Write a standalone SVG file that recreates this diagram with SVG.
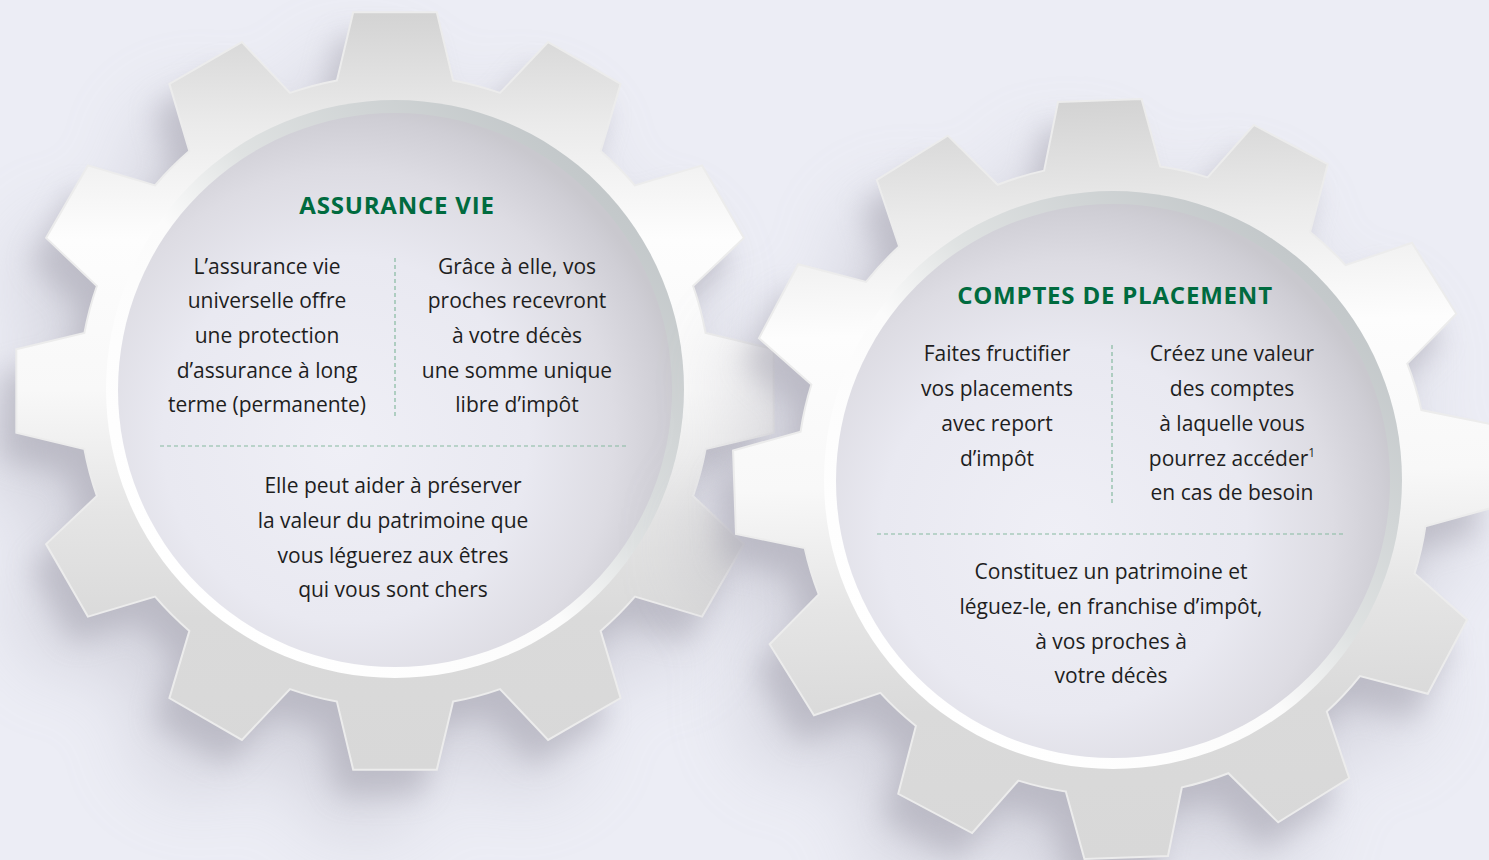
<svg xmlns="http://www.w3.org/2000/svg" xmlns:xlink="http://www.w3.org/1999/xlink" width="1489" height="860" viewBox="0 0 1489 860">
<defs>
<path id="gear" d="M-58.1,-310.6 L-41.8,-378.7 L41.8,-378.7 L58.1,-310.6 A316,316 0 0 1 105,-298.1 L153.1,-348.9 L225.6,-307.1 L205.6,-239.9 A316,316 0 0 1 239.9,-205.6 L307.1,-225.6 L348.9,-153.1 L298.1,-105 A316,316 0 0 1 310.6,-58.1 L378.7,-41.8 L378.7,41.8 L310.6,58.1 A316,316 0 0 1 298.1,105 L348.9,153.1 L307.1,225.6 L239.9,205.6 A316,316 0 0 1 205.6,239.9 L225.6,307.1 L153.1,348.9 L105,298.1 A316,316 0 0 1 58.1,310.6 L41.8,378.7 L-41.8,378.7 L-58.1,310.6 A316,316 0 0 1 -105,298.1 L-153.1,348.9 L-225.6,307.1 L-205.6,239.9 A316,316 0 0 1 -239.9,205.6 L-307.1,225.6 L-348.9,153.1 L-298.1,105 A316,316 0 0 1 -310.6,58.1 L-378.7,41.8 L-378.7,-41.8 L-310.6,-58.1 A316,316 0 0 1 -298.1,-105 L-348.9,-153.1 L-307.1,-225.6 L-239.9,-205.6 A316,316 0 0 1 -205.6,-239.9 L-225.6,-307.1 L-153.1,-348.9 L-105,-298.1 A316,316 0 0 1 -58.1,-310.6 Z"/>
<linearGradient id="body" x1="0" y1="0" x2="0" y2="1">
<stop offset="0" stop-color="#d3d3d3"/>
<stop offset="0.15" stop-color="#ebebeb"/>
<stop offset="0.3" stop-color="#fdfdfd"/>
<stop offset="0.5" stop-color="#f8f8f8"/>
<stop offset="0.66" stop-color="#e5e5e5"/>
<stop offset="0.8" stop-color="#dadada"/>
<stop offset="1" stop-color="#d8d8d8"/>
</linearGradient>
<linearGradient id="rim" x1="0.85" y1="0.15" x2="0.15" y2="0.85">
<stop offset="0" stop-color="#c3c8ca"/>
<stop offset="0.4" stop-color="#dfe2e2"/>
<stop offset="0.58" stop-color="#fbfbfb"/>
<stop offset="1" stop-color="#ffffff"/>
</linearGradient>
<radialGradient id="disk" cx="0.42" cy="0.58" r="0.6" fx="0.4" fy="0.6">
<stop offset="0" stop-color="#efeff6"/>
<stop offset="0.55" stop-color="#e9e9f1"/>
<stop offset="0.8" stop-color="#dddce3"/>
<stop offset="0.95" stop-color="#cfced5"/>
<stop offset="1" stop-color="#c9c8ce"/>
</radialGradient>
<filter id="blurS" x="-30%" y="-30%" width="160%" height="160%"><feGaussianBlur stdDeviation="14"/></filter>
<filter id="blurL" x="-40%" y="-40%" width="180%" height="180%"><feGaussianBlur stdDeviation="40"/></filter>
</defs>
<style>
.t{font-family:"Open Sans","Noto Sans","Liberation Sans",sans-serif;font-size:21px;fill:#1e1e1e;text-anchor:middle}
.h{font-family:"Open Sans","Noto Sans","Liberation Sans",sans-serif;font-size:24px;font-weight:700;fill:#006b3f;text-anchor:middle;letter-spacing:0.8px}
.dash{stroke:#86b9a0;stroke-width:1.2;stroke-dasharray:4 3;fill:none}
.gbody{fill:url(#body);stroke:#ececec;stroke-width:2}
.shL{fill:#a9a7b4;opacity:0.4}
.shS{fill:#a9a7b4;opacity:0.55}
</style>
<rect width="1489" height="860" fill="#ecedf5"/>

<g id="gear-assurance-vie">
<use xlink:href="#gear" href="#gear" class="shL" filter="url(#blurL)" transform="translate(360,446)"/>
<use xlink:href="#gear" href="#gear" class="shS" filter="url(#blurS)" transform="translate(380,416)"/>
<use xlink:href="#gear" href="#gear" class="gbody" transform="translate(395,391)"/>
<circle cx="395" cy="389" r="289" fill="url(#rim)"/>
<circle cx="395" cy="390" r="277" fill="url(#disk)"/>
<text class="h" x="397" y="214">ASSURANCE VIE</text>
<text class="t" x="267" y="274">L’assurance vie</text>
<text class="t" x="267" y="308">universelle offre</text>
<text class="t" x="267" y="343">une protection</text>
<text class="t" x="267" y="378">d’assurance à long</text>
<text class="t" x="267" y="412">terme (permanente)</text>
<line class="dash" x1="395" y1="258" x2="395" y2="418"/>
<text class="t" x="517" y="274">Grâce à elle, vos</text>
<text class="t" x="517" y="308">proches recevront</text>
<text class="t" x="517" y="343">à votre décès</text>
<text class="t" x="517" y="378">une somme unique</text>
<text class="t" x="517" y="412">libre d’impôt</text>
<line class="dash" x1="160" y1="446" x2="627" y2="446"/>
<text class="t" x="393" y="493">Elle peut aider à préserver</text>
<text class="t" x="393" y="528">la valeur du patrimoine que</text>
<text class="t" x="393" y="563">vous léguerez aux êtres</text>
<text class="t" x="393" y="597">qui vous sont chers</text>
</g>

<g id="gear-comptes-placement">
<use xlink:href="#gear" href="#gear" class="shL" filter="url(#blurL)" transform="translate(1078,535) rotate(-2)"/>
<use xlink:href="#gear" href="#gear" class="shS" filter="url(#blurS)" transform="translate(1098,505) rotate(-2)"/>
<use xlink:href="#gear" href="#gear" class="gbody" transform="translate(1113,479) rotate(-2)"/>
<circle cx="1113" cy="480" r="289" fill="url(#rim)"/>
<circle cx="1113" cy="481" r="277" fill="url(#disk)"/>
<text class="h" x="1115" y="304">COMPTES DE PLACEMENT</text>
<text class="t" x="997" y="361">Faites fructifier</text>
<text class="t" x="997" y="396">vos placements</text>
<text class="t" x="997" y="431">avec report</text>
<text class="t" x="997" y="466">d’impôt</text>
<line class="dash" x1="1112" y1="345" x2="1112" y2="505"/>
<text class="t" x="1232" y="361">Créez une valeur</text>
<text class="t" x="1232" y="396">des comptes</text>
<text class="t" x="1232" y="431">à laquelle vous</text>
<text class="t" x="1232" y="466">pourrez accéder<tspan font-size="12" dy="-9">1</tspan></text>
<text class="t" x="1232" y="500">en cas de besoin</text>
<line class="dash" x1="877" y1="534" x2="1345" y2="534"/>
<text class="t" x="1111" y="579">Constituez un patrimoine et</text>
<text class="t" x="1111" y="614">léguez-le, en franchise d’impôt,</text>
<text class="t" x="1111" y="649">à vos proches à</text>
<text class="t" x="1111" y="683">votre décès</text>
</g>
</svg>
